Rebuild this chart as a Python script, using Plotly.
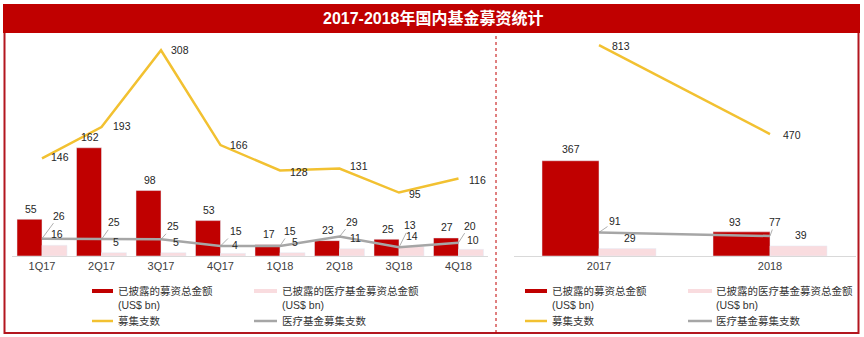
import plotly.graph_objects as go

W, H = 864, 337

# Quarterly figures, 2017-2018
quarters = ["1Q17", "2Q17", "3Q17", "4Q17", "1Q18", "2Q18", "3Q18", "4Q18"]
q_total_raised = [55, 162, 98, 53, 17, 23, 25, 27]        # 已披露的募资总金额 (US$ bn)
q_med_raised = [16, 5, 5, 4, 5, 11, 14, 10]               # 已披露的医疗基金募资总金额 (US$ bn)
q_fund_count = [146, 193, 308, 166, 128, 131, 95, 116]    # 募集支数
q_med_count = [26, 25, 25, 15, 15, 29, 13, 20]            # 医疗基金募集支数

# Annual figures
years = ["2017", "2018"]
y_total_raised = [367, 93]
y_med_raised = [29, 39]
y_fund_count = [813, 470]
y_med_count = [91, 77]

# Legend / series names
name_total = "已披露的募资总金额"
name_med = "已披露的医疗基金募资总金额"
name_count = "募集支数"
name_med_count = "医疗基金募集支数"
unit = "(US$ bn)"

# Colours
RED = "#C00000"
PINK = "#F9DCDF"
GOLD = "#F2C131"
GREY = "#A6A6A6"
FRAME = "#B3161F"
TXT = "#262626"

FONT = "Liberation Sans, Arial, Noto Sans CJK SC, sans-serif"

# Label pixel shifts (dx right, dy up) for each data label
q_count_shift = [(18, 1), (20, 1), (19, 0), (18, 0), (19, -1), (19, 2), (16, -1), (19, -1)]
q_medcount_shift = [(17, 23), (12, 17), (12, 13), (15, 15), (10, 15), (12, 15), (11, 22), (11, 17)]
q_med_shift = [(2, 11), (2, 11), (2, 11), (2, 8.5), (2, 11), (3, 11), (0, 11), (2, 9.5)]
y_count_shift = [(22, -1), (22, -1)]
y_medcount_shift = [(16, 11), (5, 14)]
y_total_shift = [(0, 12), (-7, 10)]

# Plot geometry in pixels
BASE = 256
TOP = 40
L_X0, L_X1 = 12.25, 488.25
R_X0, R_X1 = 513.5, 855.5
L_RANGE = (BASE - TOP) / 0.668
R_RANGE = (BASE - TOP) / 0.2595
L_W = 0.42
R_W = 1 / 3


def px(x):
    return x / W


def py(y):
    return 1 - y / H


fig = go.Figure()

# Quarterly panel
fig.add_trace(go.Bar(x=quarters, y=q_total_raised, name=name_total, marker_color=RED,
                     width=L_W, offset=-L_W, xaxis="x", yaxis="y"))
fig.add_trace(go.Bar(x=quarters, y=q_med_raised, name=name_med, marker_color=PINK,
                     width=L_W, offset=0, xaxis="x", yaxis="y"))
fig.add_trace(go.Scatter(x=quarters, y=q_fund_count, name=name_count, mode="lines",
                         line=dict(color=GOLD, width=2.5), xaxis="x", yaxis="y"))
fig.add_trace(go.Scatter(x=quarters, y=q_med_count, name=name_med_count, mode="lines",
                         line=dict(color=GREY, width=2.5), xaxis="x", yaxis="y"))

# Annual panel
fig.add_trace(go.Bar(x=years, y=y_total_raised, name=name_total, marker_color=RED,
                     width=R_W, offset=-R_W, xaxis="x2", yaxis="y2"))
fig.add_trace(go.Bar(x=years, y=y_med_raised, name=name_med, marker_color=PINK,
                     width=R_W, offset=0, xaxis="x2", yaxis="y2"))
fig.add_trace(go.Scatter(x=years, y=y_fund_count, name=name_count, mode="lines",
                         line=dict(color=GOLD, width=2.5), xaxis="x2", yaxis="y2"))
fig.add_trace(go.Scatter(x=years, y=y_med_count, name=name_med_count, mode="lines",
                         line=dict(color=GREY, width=2.5), xaxis="x2", yaxis="y2"))

ann = []
lab_font = dict(family=FONT, size=10.5, color=TXT)


def bar_labels(values, w, center, xr, yr, shifts=None, default=(1, 10.5)):
    for i, v in enumerate(values):
        dx, dy = shifts[i] if shifts else default
        ann.append(dict(x=i + center * w, y=v, xref=xr, yref=yr, text=str(v),
                        showarrow=False, xanchor="center", yanchor="middle",
                        xshift=dx, yshift=dy, font=lab_font))


def line_labels(values, shifts, xr, yr):
    for i, v in enumerate(values):
        dx, dy = shifts[i]
        ann.append(dict(x=i, y=v, xref=xr, yref=yr, text=str(v), showarrow=False,
                        xanchor="center", yanchor="middle", xshift=dx, yshift=dy,
                        font=lab_font))


def leader_labels(values, shifts, xr, yr):
    for i, v in enumerate(values):
        dx, dy = shifts[i]
        ann.append(dict(x=i, y=v, xref=xr, yref=yr, text=str(v), showarrow=True,
                        arrowhead=0, arrowwidth=0.8, arrowcolor="#9A9A9A", standoff=0,
                        ax=dx, ay=-dy, xanchor="center", yanchor="middle",
                        font=lab_font))


bar_labels(q_total_raised, L_W, -0.5, "x", "y")
bar_labels(q_med_raised, L_W, 0.5, "x", "y", shifts=q_med_shift)
line_labels(q_fund_count, q_count_shift, "x", "y")
leader_labels(q_med_count, q_medcount_shift, "x", "y")

bar_labels(y_total_raised, R_W, -0.5, "x2", "y2", shifts=y_total_shift)
bar_labels(y_med_raised, R_W, 0.5, "x2", "y2", default=(2, 10.5))
line_labels(y_fund_count, y_count_shift, "x2", "y2")
leader_labels(y_med_count, y_medcount_shift, "x2", "y2")

# Title text in the red band
ann.append(dict(x=px(433), y=py(18.5), xref="paper", yref="paper",
                text="<b>2017-2018年国内基金募资统计</b>", showarrow=False,
                xanchor="center", yanchor="middle",
                font=dict(family=FONT, size=16, color="white")))

shapes = [
    # outer frame
    dict(type="rect", xref="paper", yref="paper", x0=px(4.5), x1=px(858.5),
         y0=py(333), y1=py(20), line=dict(color=FRAME, width=2), fillcolor="rgba(0,0,0,0)"),
    # title band
    dict(type="rect", xref="paper", yref="paper", x0=px(3), x1=px(860),
         y0=py(33), y1=py(4), line=dict(width=0), fillcolor=RED),
    # dotted divider between panels
    dict(type="line", xref="paper", yref="paper", x0=px(496), x1=px(496),
         y0=py(36), y1=py(333), line=dict(color=RED, width=1, dash="dot")),
]

# Hand-placed legends, one under each panel
legend_items = [
    (name_total, RED, 4, True),
    (name_med, PINK, 4, True),
    (name_count, GOLD, 2.5, False),
    (name_med_count, GREY, 2.5, False),
]
legend_cols = [
    ((92, 113, 116), (254, 277, 280)),   # quarterly panel
    ((525, 547, 550), (688, 712, 714)),  # annual panel
]
leg_font = dict(family=FONT, size=10.5, color="#333333")
for cols in legend_cols:
    for k, (label, color, lw, has_unit) in enumerate(legend_items):
        x0, x1, xt = cols[k % 2]
        yy = 291 if k < 2 else 321
        shapes.append(dict(type="line", xref="paper", yref="paper",
                           x0=px(x0), x1=px(x1), y0=py(yy), y1=py(yy),
                           line=dict(color=color, width=lw)))
        ann.append(dict(x=px(xt), y=py(yy), xref="paper", yref="paper", text=label,
                        showarrow=False, xanchor="left", yanchor="middle", font=leg_font))
        if has_unit:
            ann.append(dict(x=px(xt), y=py(yy + 14), xref="paper", yref="paper", text=unit,
                            showarrow=False, xanchor="left", yanchor="middle", font=leg_font))

axis_common = dict(type="category", showline=True, linecolor="#D9D9D9", linewidth=1,
                   ticks="", showgrid=False, zeroline=False, fixedrange=True,
                   tickfont=dict(family=FONT, size=11, color="#404040"))
ydom = [py(BASE), py(TOP)]

fig.update_layout(
    width=W, height=H,
    margin=dict(l=0, r=0, t=0, b=0),
    paper_bgcolor="white", plot_bgcolor="white",
    showlegend=False,
    font=dict(family=FONT, color=TXT),
    barmode="overlay",
    xaxis=dict(domain=[px(L_X0), px(L_X1)], range=[-0.5, 7.5], anchor="y", **axis_common),
    yaxis=dict(domain=ydom, range=[0, L_RANGE], visible=False, fixedrange=True, anchor="x"),
    xaxis2=dict(domain=[px(R_X0), px(R_X1)], range=[-0.5, 1.5], anchor="y2", **axis_common),
    yaxis2=dict(domain=ydom, range=[0, R_RANGE], visible=False, fixedrange=True, anchor="x2"),
    annotations=ann,
    shapes=shapes,
)

fig.write_html("out.html", config={"displayModeBar": False})
